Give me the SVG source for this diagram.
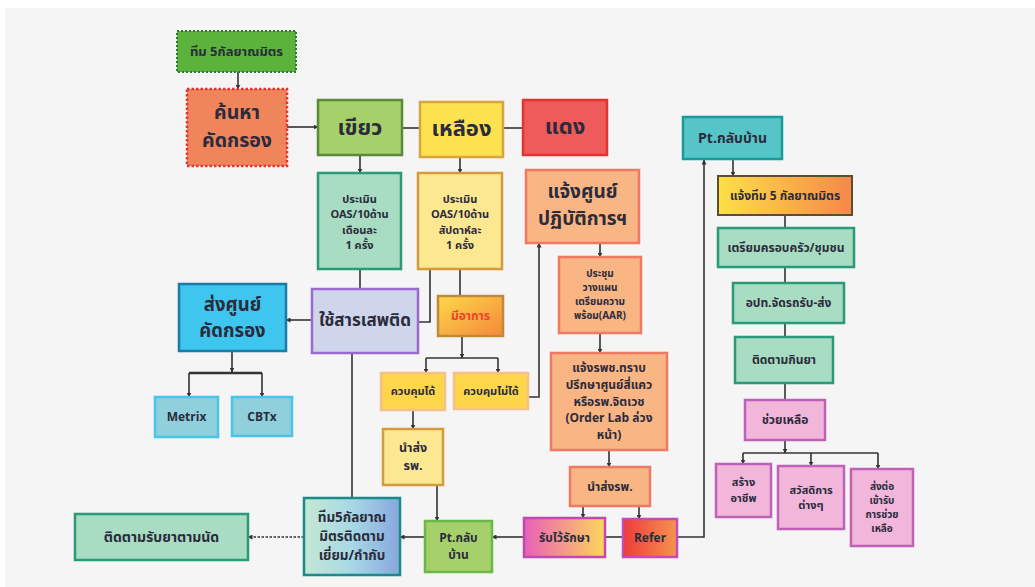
<svg xmlns="http://www.w3.org/2000/svg" width="1035" height="587" viewBox="0 0 1035 587">
<style>
text{font-family:"Noto Sans Thai","Noto Sans","Liberation Sans",sans-serif;font-weight:bold;fill:#2b2b3b;text-anchor:middle;dominant-baseline:central}
.ln{fill:none;stroke:#333;stroke-width:1.6}
.ar{fill:none;stroke:#333;stroke-width:1.6;marker-end:url(#ah)}
.mint{fill:#a8dcc3;stroke:#2a9a7a;stroke-width:2.5}
.pink{fill:#f2b6da;stroke:#c060b8;stroke-width:2.5}
.lyel{fill:#fde892;stroke:#d39a3e;stroke-width:2.5}
.peach{fill:#f9b584;stroke:#ef7a64;stroke-width:2.5}
.ctl{fill:#fdd64a;stroke:#f5c08a;stroke-width:2.5}
.cyan{fill:#8fd0dc;stroke:#4ac4e8;stroke-width:2.5}
.s10{font-size:10px}.s11{font-size:11px}.s12{font-size:12px}.s13{font-size:13px}
</style>
<defs>
<marker id="ah" viewBox="0 0 10 10" refX="9" refY="5" markerWidth="5" markerHeight="5" orient="auto" markerUnits="userSpaceOnUse"><path d="M0,0 L10,5 L0,10 z" fill="#333"/></marker>
<linearGradient id="gOrange" x1="0" y1="0" x2="1" y2="0"><stop offset="0" stop-color="#fde047"/><stop offset="1" stop-color="#f5884a"/></linearGradient>
<linearGradient id="gSym" x1="0" y1="0" x2="1" y2="1"><stop offset="0" stop-color="#fdd94a"/><stop offset="1" stop-color="#f5883a"/></linearGradient>
<linearGradient id="gRecv" x1="0" y1="0" x2="1" y2="0"><stop offset="0" stop-color="#e95fb8"/><stop offset="1" stop-color="#fdd65a"/></linearGradient>
<linearGradient id="gRefer" x1="0" y1="0" x2="1" y2="0"><stop offset="0" stop-color="#ee3b3b"/><stop offset="1" stop-color="#f5944f"/></linearGradient>
<linearGradient id="gTeam" x1="0" y1="0" x2="1" y2="0"><stop offset="0" stop-color="#c4e8d4"/><stop offset="0.5" stop-color="#a8d8e6"/><stop offset="1" stop-color="#86a8dc"/></linearGradient>
</defs>
<rect x="0" y="0" width="1035" height="587" fill="#ffffff"/>
<rect x="5" y="8" width="1030" height="579" fill="#f5f5f5"/>

<g id="connectors">
<path class="ar" d="M238,72 V89"/>
<path class="ar" d="M287,127 H318"/>
<path class="ln" d="M402,128 H420"/>
<path class="ln" d="M503,128 H523"/>
<path class="ar" d="M360,155 V173"/>
<path class="ar" d="M460,157 V173"/>
<path class="ln" d="M360,269 V289"/>
<path class="ln" d="M430,269 V322 H418"/>
<path class="ln" d="M460,269 V296"/>
<path class="ar" d="M312,320 H286"/>
<path class="ar" d="M232,351 V372"/>
<path class="ln" d="M189,373 H262" style="stroke-width:2.6"/>
<path class="ar" d="M189,373 V397"/>
<path class="ar" d="M262,373 V397"/>
<path class="ar" d="M462,336 V358"/>
<path class="ln" d="M426,358 H498"/>
<path class="ar" d="M426,358 V373"/>
<path class="ar" d="M498,358 V373"/>
<path class="ar" d="M413,410 V429"/>
<path class="ar" d="M437,485 V521"/>
<path class="ar" d="M528,397 H539 V243"/>
<path class="ar" d="M600,243 V257"/>
<path class="ar" d="M600,333 V353"/>
<path class="ar" d="M609,450 V467"/>
<path class="ar" d="M583,506 V518"/>
<path class="ar" d="M639,506 V519"/>
<path class="ln" d="M605,537 H623"/>
<path class="ar" d="M524,537 H492"/>
<path class="ar" d="M425,537 H400"/>
<path class="ln" d="M352,353 V498"/>
<path class="ar" d="M304,537 H248" style="stroke-dasharray:2.5,1.5"/>
<path class="ar" d="M677,537 H704 V160"/>
<path class="ar" d="M733,159 V176"/>
<path class="ln" d="M785,215 V228"/>
<path class="ln" d="M785,267 V283"/>
<path class="ln" d="M785,323 V337"/>
<path class="ln" d="M785,383 V400"/>
<path class="ar" d="M785,440 V453"/>
<path class="ln" d="M743,453 H878"/>
<path class="ar" d="M743,453 V464"/>
<path class="ar" d="M811,453 V466"/>
<path class="ar" d="M878,453 V469"/>
</g>

<g id="n-team5"><rect x="177" y="31" width="119" height="41" fill="#5bb33c" stroke="#2f7a2a" stroke-width="2" stroke-dasharray="2,2"/><text x="236.5" y="51.5" class="s13">ทีม 5กัลยาณมิตร</text></g>
<g id="n-search"><rect x="187" y="89" width="100" height="77" fill="#f0845a" stroke="#e8322e" stroke-width="2.5" stroke-dasharray="2.5,2"/><text x="237" y="113" style="font-size:19.5px">ค้นหา</text><text x="237" y="141" style="font-size:19.5px">คัดกรอง</text></g>
<g id="n-green"><rect x="318" y="100" width="84" height="55" fill="#a6d16a" stroke="#5a8a3a" stroke-width="2.5"/><text x="360" y="128" style="font-size:22px">เขียว</text></g>
<g id="n-yellow"><rect x="420" y="102" width="83" height="55" fill="#fde24f" stroke="#d9a53d" stroke-width="2.5"/><text x="461.5" y="129" style="font-size:22px">เหลือง</text></g>
<g id="n-red"><rect x="523" y="100" width="84" height="55" fill="#ef5a5a" stroke="#e03535" stroke-width="2.5"/><text x="565" y="127" style="font-size:22px">แดง</text></g>

<g id="n-evalg"><rect x="318" y="173" width="83" height="96" class="mint"/><text x="359.5" y="199.4" class="s11">ประเมิน</text><text x="359.5" y="214.8" class="s11">OAS/10ด้าน</text><text x="359.5" y="230.2" class="s11">เดือนละ</text><text x="359.5" y="245.6" class="s11">1 ครั้ง</text></g>
<g id="n-evaly"><rect x="418" y="173" width="84" height="96" class="lyel"/><text x="460" y="199.4" class="s11">ประเมิน</text><text x="460" y="214.8" class="s11">OAS/10ด้าน</text><text x="460" y="230.2" class="s11">สัปดาห์ละ</text><text x="460" y="245.6" class="s11">1 ครั้ง</text></g>
<g id="n-notify"><rect x="526" y="170" width="113" height="73" class="peach"/><text x="582.5" y="192.5" style="font-size:19px">แจ้งศูนย์</text><text x="582.5" y="219.5" style="font-size:19px">ปฏิบัติการฯ</text></g>
<g id="n-meet"><rect x="559" y="257" width="82" height="76" class="peach"/><text x="600" y="274" class="s10">ประชุม</text><text x="600" y="288" class="s10">วางแผน</text><text x="600" y="302" class="s10">เตรียมความ</text><text x="600" y="316" class="s10">พร้อม(AAR)</text></g>
<g id="n-inform"><rect x="551" y="353" width="116" height="97" class="peach"/><text x="609" y="368" class="s12">แจ้งรพช.ทราบ</text><text x="609" y="384.8" class="s12">ปรึกษาศูนย์สี่แคว</text><text x="609" y="401.6" class="s12">หรือรพ.จิตเวช</text><text x="609" y="418.4" class="s12">(Order Lab ล่วง</text><text x="609" y="435.2" class="s12">หน้า)</text></g>
<g id="n-sendh"><rect x="570" y="467" width="80" height="39" class="peach"/><text x="610" y="486.5" class="s12">นำส่งรพ.</text></g>
<g id="n-admit"><rect x="524" y="518" width="81" height="39" fill="url(#gRecv)" stroke="#c04ab0" stroke-width="2.5"/><text x="564.5" y="537.5" class="s12">รับไว้รักษา</text></g>
<g id="n-refer"><rect x="623" y="519" width="54" height="38" fill="url(#gRefer)" stroke="#c84ab8" stroke-width="2.5"/><text x="650" y="538" class="s12">Refer</text></g>

<g id="n-center"><rect x="179" y="284" width="107" height="67" fill="#3ec6ef" stroke="#1a7aa8" stroke-width="2.5"/><text x="232.5" y="304.5" style="font-size:18.5px">ส่งศูนย์</text><text x="232.5" y="331" style="font-size:18.5px">คัดกรอง</text></g>
<g id="n-drug"><rect x="312" y="289" width="106" height="64" fill="#cfd6ec" stroke="#9a6ad0" stroke-width="2.5"/><text x="365" y="321" style="font-size:17px">ใช้สารเสพติด</text></g>
<g id="n-symptom"><rect x="438" y="296" width="65" height="40" fill="url(#gSym)" stroke="#c08a3a" stroke-width="2.5"/><text x="470.5" y="316" class="s12" style="fill:#e8452a">มีอาการ</text></g>
<g id="n-ctl"><rect x="381" y="373" width="64" height="37" class="ctl"/><text x="413" y="391.5" class="s11">ควบคุมได้</text></g>
<g id="n-nctl"><rect x="454" y="373" width="74" height="36" class="ctl"/><text x="491" y="391" class="s11">ควบคุมไม่ได้</text></g>
<g id="n-send"><rect x="383" y="429" width="60" height="56" class="lyel"/><text x="413" y="448.5" style="font-size:12.5px">นำส่ง</text><text x="413" y="466.5" style="font-size:12.5px">รพ.</text></g>
<g id="n-ptg"><rect x="425" y="521" width="67" height="51" fill="#a6d16a" stroke="#6ab84a" stroke-width="2.5"/><text x="458.5" y="538" class="s12">Pt.กลับ</text><text x="458.5" y="555.2" class="s12">บ้าน</text></g>
<g id="n-team"><rect x="304" y="498" width="96" height="77" fill="url(#gTeam)" stroke="#1a8a8a" stroke-width="2.5"/><text x="352" y="517.5" style="font-size:13.5px">ทีม5กัลยาณ</text><text x="352" y="536.7" style="font-size:13.5px">มิตรติดตาม</text><text x="352" y="555.9" style="font-size:13.5px">เยี่ยม/กำกับ</text></g>
<g id="n-follow"><rect x="75" y="514" width="173" height="46" class="mint"/><text x="161.5" y="537" style="font-size:14px">ติดตามรับยาตามนัด</text></g>
<g id="n-metrix"><rect x="155" y="397" width="63" height="40" class="cyan"/><text x="186.5" y="417" class="s12">Metrix</text></g>
<g id="n-cbtx"><rect x="232" y="397" width="60" height="39" class="cyan"/><text x="262" y="416.5" class="s12">CBTx</text></g>

<g id="n-pthome"><rect x="683" y="117" width="99" height="42" fill="#56c5c8" stroke="#1a9a9a" stroke-width="2.5"/><text x="732.5" y="138" style="font-size:14px">Pt.กลับบ้าน</text></g>
<g id="n-tell5"><rect x="718" y="176" width="134" height="39" fill="url(#gOrange)" stroke="#5a5030" stroke-width="2"/><text x="785" y="195.5" class="s12">แจ้งทีม 5 กัลยาณมิตร</text></g>
<g id="n-family"><rect x="718" y="228" width="136" height="39" class="mint"/><text x="786" y="247.5" class="s12">เตรียมครอบครัว/ชุมชน</text></g>
<g id="n-opt"><rect x="733" y="283" width="111" height="40" class="mint"/><text x="788.5" y="303" class="s12">อปท.จัดรถรับ-ส่ง</text></g>
<g id="n-med"><rect x="735" y="337" width="98" height="46" class="mint"/><text x="784" y="360" class="s12">ติดตามกินยา</text></g>
<g id="n-help"><rect x="745" y="400" width="80" height="40" class="pink"/><text x="785" y="420" class="s12">ช่วยเหลือ</text></g>
<g id="n-job"><rect x="716" y="464" width="55" height="53" class="pink"/><text x="743.5" y="482.5" class="s11">สร้าง</text><text x="743.5" y="498.5" class="s11">อาชีพ</text></g>
<g id="n-welfare"><rect x="778" y="466" width="66" height="63" class="pink"/><text x="811" y="490" class="s11">สวัสดิการ</text><text x="811" y="505.5" class="s11">ต่างๆ</text></g>
<g id="n-refer2"><rect x="851" y="469" width="62" height="77" class="pink"/><text x="882" y="486.5" class="s10">ส่งต่อ</text><text x="882" y="500.5" class="s10">เข้ารับ</text><text x="882" y="514.5" class="s10">การช่วย</text><text x="882" y="528.5" class="s10">เหลือ</text></g>
</svg>
